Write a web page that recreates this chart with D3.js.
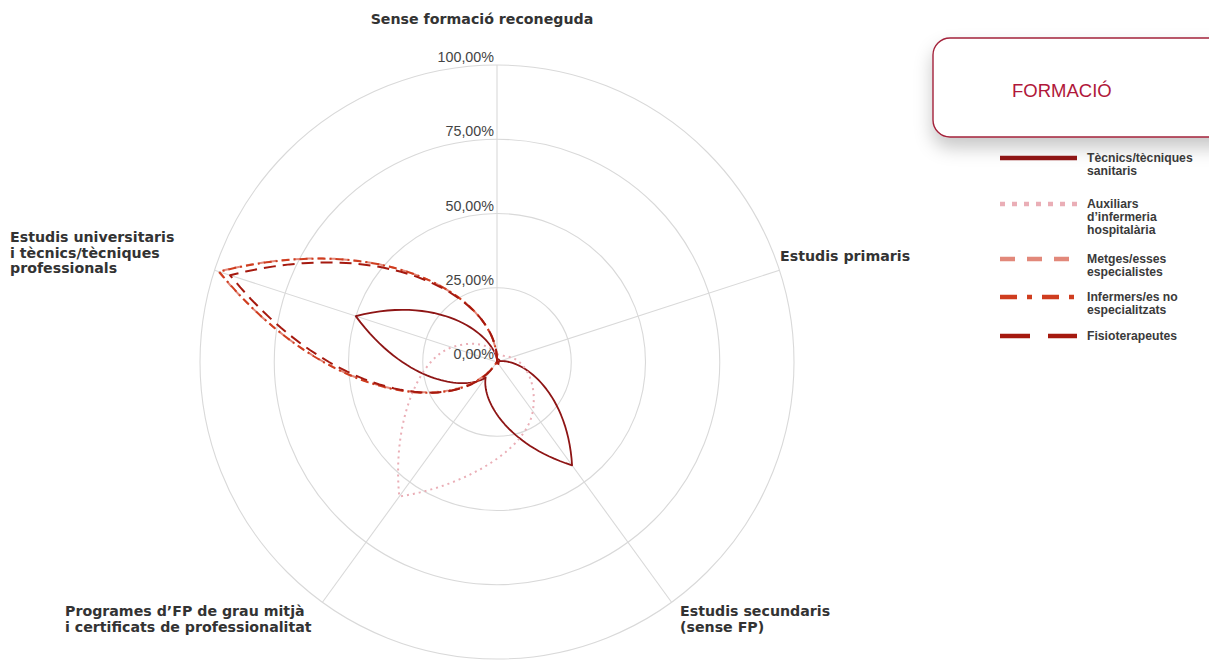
<!DOCTYPE html>
<html><head><meta charset="utf-8">
<script src="https://cdn.jsdelivr.net/npm/d3@7"></script>
<style>
html,body{margin:0;padding:0;background:#fff;}
svg{display:block;font-family:"Liberation Sans",Arial,sans-serif;}
</style></head><body>
<svg id="chart" width="1209" height="662"></svg>
<script>
// ---------- DATA ----------
const categories = ["Sense formació reconeguda","Estudis primaris","Estudis secundaris (sense FP)","Programes d’FP de grau mitjà i certificats de professionalitat","Estudis universitaris i tècnics/tècniques professionals"];
const categoryLabelLines = [
  ["Sense formació reconeguda"],
  ["Estudis primaris"],
  ["Estudis secundaris","(sense FP)"],
  ["Programes d’FP de grau mitjà","i certificats de professionalitat"],
  ["Estudis universitaris","i tècnics/tècniques","professionals"]
];
const seriesNames = ["Tècnics/tècniques sanitaris","Auxiliars d’infermeria hospitalària","Metges/esses especialistes","Infermers/es no especialitzats","Fisioterapeutes"];
const legendLabelLines = [["Tècnics/tècniques","sanitaris"],["Auxiliars","d’infermeria","hospitalària"],["Metges/esses","especialistes"],["Infermers/es no","especialitzats"],["Fisioterapeutes"]];
// values in %, order = categories
const tecnics   = [1.0, 1.0, 43.0, 6.5, 50.0];
const auxiliars = [2.5, 5.0, 20.5, 56.0, 16.0];
const metges    = [0.4, 0.3, 0.3, 1.2, 98.6];
const infermers = [0.6, 0.3, 0.3, 1.8, 98.4];
const fisio     = [1.2, 0.6, 0.8, 2.8, 94.5];
const tickValues = [0, 25, 50, 75, 100];
const tickLabels = ["0,00%","25,00%","50,00%","75,00%","100,00%"];
const legendTitle = "FORMACIÓ";

// ---------- STYLE ----------
const seriesValues = [tecnics, auxiliars, metges, infermers, fisio];
const seriesStyle = [
  {color:"#8e1515", dash:null, lw:1.8, legDash:null},
  {color:"#eaaeb6", dash:"2,4", lw:2, legDash:"5,7"},
  {color:"#e2887a", dash:"7,5", lw:2, legDash:"15,12"},
  {color:"#cf3d1f", dash:"8,4,2,4", lw:2, legDash:"17,10,5,10"},
  {color:"#a5190f", dash:"12,7", lw:2, legDash:"30,18"}
];

const svg = d3.select("#chart");
const cx = 497, cy = 362, R = 297;

const defs = svg.append("defs");
const f = defs.append("filter").attr("id","shadow").attr("x","-20%").attr("y","-30%").attr("width","140%").attr("height","190%");
f.append("feDropShadow").attr("dx",0).attr("dy",10).attr("stdDeviation",9).attr("flood-color","#000").attr("flood-opacity",0.22);

const rScale = d3.scaleLinear().domain([0,100]).range([0,R]);
const aScale = d3.scaleLinear().domain([0, categories.length]).range([0, 2*Math.PI]);

const g = svg.append("g").attr("transform",`translate(${cx},${cy})`);

// grid rings
g.selectAll("circle.ring").data(tickValues.filter(t=>t>0)).join("circle")
  .attr("class","ring").attr("r",d=>rScale(d))
  .attr("fill","none").attr("stroke","#d9d9d9").attr("stroke-width",1.1);
// spokes
g.selectAll("line.spoke").data(categories).join("line")
  .attr("class","spoke")
  .attr("x1",0).attr("y1",0)
  .attr("x2",(d,i)=>rScale(100)*Math.sin(aScale(i)))
  .attr("y2",(d,i)=>-rScale(100)*Math.cos(aScale(i)))
  .attr("stroke","#d9d9d9").attr("stroke-width",1.1);

// tick labels
g.selectAll("text.tick").data(tickValues).join("text")
  .attr("class","tick")
  .attr("x",-3).attr("y",d=>-rScale(d)-3)
  .attr("text-anchor","end")
  .attr("font-size",14.3).attr("fill","#444")
  .text((d,i)=>tickLabels[i]);

// polar petal curve: Hermite interpolation of radius over angle, cusps at peaks
function curvePolarPetal(context){
  const PEAK = 2, K = 3, LOW = 0.45, steps = 40;
  let xs, ys;
  return {
    areaStart(){}, areaEnd(){},
    lineStart(){ xs=[]; ys=[]; },
    point(x,y){ xs.push(+x); ys.push(+y); },
    lineEnd(){
      const n = xs.length; if(!n) return;
      const a = xs.map((x,i)=>Math.atan2(x,-ys[i]));
      const r = xs.map((x,i)=>Math.hypot(x,ys[i]));
      for(let i=1;i<n;i++) while(a[i] <= a[i-1]) a[i] += 2*Math.PI;
      const mIn = new Array(n), mOut = new Array(n);
      for(let i=0;i<n;i++){
        const p=r[(i-1+n)%n], q=r[(i+1)%n], v=r[i];
        if(v>=p && v>=q){ mIn[i]=PEAK*(v-p); mOut[i]=PEAK*(q-v); }
        else if(v<=p && v<=q){ mIn[i]=-Math.min(K*v, LOW*(p-v)); mOut[i]=Math.min(K*v, LOW*(q-v)); }
        else { mIn[i]=mOut[i]=(q-p)/2; }
      }
      for(let i=0;i<n;i++){
        const j=(i+1)%n;
        const a0=a[i], a1=(j===0)?a[0]+2*Math.PI:a[j];
        for(let s=(i===0?0:1); s<=steps; s++){
          const u=s/steps, u2=u*u, u3=u2*u;
          const rr=Math.max(0,(2*u3-3*u2+1)*r[i]+(u3-2*u2+u)*mOut[i]+(-2*u3+3*u2)*r[j]+(u3-u2)*mIn[j]);
          const aa=a0+(a1-a0)*u;
          const x=rr*Math.sin(aa), y=-rr*Math.cos(aa);
          if(i===0&&s===0) context.moveTo(x,y); else context.lineTo(x,y);
        }
      }
      context.closePath();
    }
  };
}

const radial = d3.lineRadial()
  .angle((d,i)=>aScale(i))
  .radius(d=>rScale(d))
  .curve(curvePolarPetal);

g.selectAll("path.series").data(seriesValues).join("path")
  .attr("class","series")
  .attr("d",d=>radial(d))
  .attr("fill","none")
  .attr("stroke",(d,i)=>seriesStyle[i].color)
  .attr("stroke-width",(d,i)=>seriesStyle[i].lw)
  .attr("stroke-dasharray",(d,i)=>seriesStyle[i].dash)
  .attr("stroke-linejoin","round");

// category labels
const catPos = [
  {x:482, y:24, anchor:"middle"},
  {x:780, y:261, anchor:"start"},
  {x:680, y:616, anchor:"start"},
  {x:65,  y:616, anchor:"start"},
  {x:10,  y:242, anchor:"start"}
];
const catG = svg.append("g").attr("font-family","'DejaVu Sans',sans-serif").attr("font-weight","bold").attr("font-size",14.2).attr("fill","#333");
categoryLabelLines.forEach((lines,i)=>{
  const t = catG.append("text").attr("x",catPos[i].x).attr("y",catPos[i].y).attr("text-anchor",catPos[i].anchor);
  lines.forEach((ln,k)=>t.append("tspan").attr("x",catPos[i].x).attr("dy",k===0?0:15.5).text(ln));
});

// legend
const lg = svg.append("g");
lg.append("rect").attr("x",933).attr("y",38).attr("width",310).attr("height",99).attr("rx",17)
  .attr("fill","#fff").attr("stroke","#a3223a").attr("stroke-width",1.4).attr("filter","url(#shadow)");
lg.append("text").attr("x",1012).attr("y",97).attr("font-size",18.5).attr("fill","#b0173a").text(legendTitle);
const legY = [158, 204, 259, 297, 336];
seriesNames.forEach((nm,i)=>{
  lg.append("line").attr("x1",1000).attr("x2",1077).attr("y1",legY[i]).attr("y2",legY[i])
    .attr("stroke",seriesStyle[i].color).attr("stroke-width",4.5)
    .attr("stroke-dasharray",seriesStyle[i].legDash);
  const t = lg.append("text").attr("x",1087).attr("y",legY[i]+4.3)
    .attr("font-size",12.2).attr("font-weight","bold").attr("fill","#3a3a3a");
  legendLabelLines[i].forEach((ln,k)=>t.append("tspan").attr("x",1087).attr("dy",k===0?0:13).text(ln));
});
</script>
</body></html>
